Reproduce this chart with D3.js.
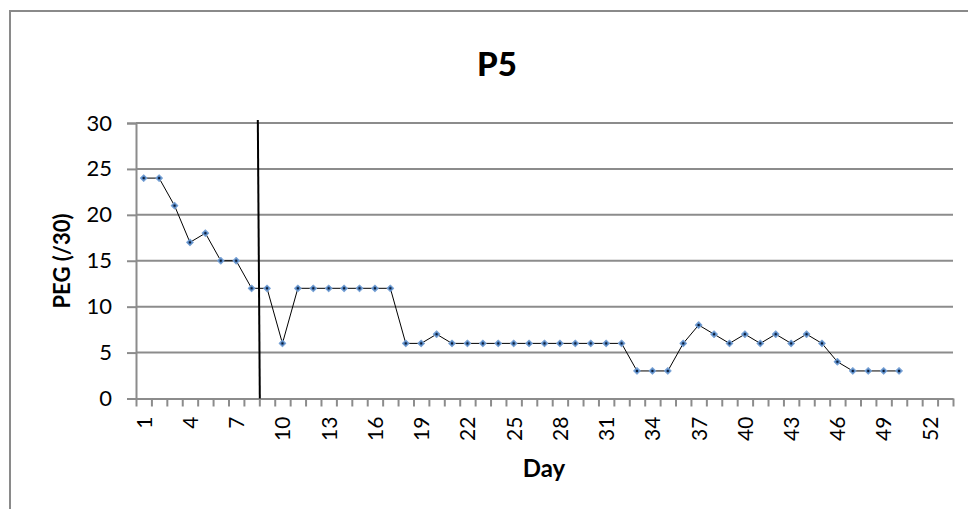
<!DOCTYPE html>
<html><head><meta charset="utf-8">
<script src="https://cdn.jsdelivr.net/npm/d3@7"></script>
<style>
html,body{margin:0;padding:0;background:#fff;}
svg{display:block;}
text{font-family:Lato,"Open Sans",sans-serif;fill:#000;}
</style></head>
<body>
<svg id="chart" width="968" height="509"></svg>
<script>
const title = "P5";
const yTitle = "PEG (/30)";
const xTitle = "Day";
const days = d3.range(1, 51);
const peg = [24,24,21,17,18,15,15,12,12,6,
             12,12,12,12,12,12,12,6,6,7,
             6,6,6,6,6,6,6,6,6,6,
             6,6,3,3,3,6,8,7,6,7,
             6,7,6,7,6,4,3,3,3,3];
const nCategories = 53;
const xTickLabels = d3.range(1, 53, 3);
const yTicks = [0,5,10,15,20,25,30];
const phaseChange = 8.5;

const svg = d3.select("#chart");
const L = 136, R = 953, T = 123, B = 398.5;

// outer border
svg.append("rect").attr("x",10).attr("y",11).attr("width",980).attr("height",520)
  .attr("fill","none").attr("stroke","#8a8a8a").attr("stroke-width",2);

const x = d3.scaleLinear().domain([0.5, nCategories + 0.5]).range([L, R]);
const y = d3.scaleLinear().domain([0, 30]).range([B, T]);

// gridlines
svg.append("g").selectAll("line").data(yTicks.filter(d=>d>0)).join("line")
  .attr("x1", L).attr("x2", R).attr("y1", d=>y(d)).attr("y2", d=>y(d))
  .attr("stroke","#8c8c8c").attr("stroke-width",2);

// y axis
const yAxis = svg.append("g").attr("transform",`translate(${L},0)`)
  .call(d3.axisLeft(y).tickValues(yTicks).tickSize(9).tickPadding(15));
yAxis.select(".domain").attr("stroke","#8c8c8c").attr("stroke-width",2);
yAxis.selectAll(".tick line").attr("stroke","#8c8c8c").attr("stroke-width",2);
yAxis.selectAll("text").attr("font-size",22).attr("font-family","Lato,sans-serif").attr("fill","#000");

// x axis ticks at category boundaries
const xAxisTicks = svg.append("g").attr("transform",`translate(0,${B})`)
  .call(d3.axisBottom(x).tickValues(d3.range(0.5, nCategories + 1, 1)).tickFormat("").tickSize(8).tickSizeOuter(0));
xAxisTicks.select(".domain").attr("stroke","#8c8c8c").attr("stroke-width",2);
xAxisTicks.selectAll(".tick line").attr("stroke","#8c8c8c").attr("stroke-width",2);

// x labels
const xLab = svg.append("g").attr("transform",`translate(0,${B})`)
  .call(d3.axisBottom(x).tickValues(xTickLabels).tickFormat(d3.format("d")).tickSize(0));
xLab.select(".domain").remove();
xLab.selectAll("text")
  .attr("font-size",21).attr("font-family","Lato,sans-serif").attr("fill","#000")
  .attr("transform","rotate(-90)")
  .attr("text-anchor","end")
  .attr("dy","0.35em")
  .attr("x",-18).attr("y",0);

// phase change line
svg.append("line")
  .attr("x1", x(phaseChange) - 1.5).attr("x2", x(phaseChange) + 0.5)
  .attr("y1", 120).attr("y2", B)
  .attr("stroke","#000").attr("stroke-width",2);

// data line
const data = days.map((d,i)=>({d, v: peg[i]}));
svg.append("path").datum(data)
  .attr("fill","none").attr("stroke","#000").attr("stroke-width",1)
  .attr("d", d3.line().x(p=>x(p.d)).y(p=>y(p.v)));

// markers
const sym = d3.symbol().type(d3.symbolSquare).size(22);
svg.append("g").selectAll("path").data(data).join("path")
  .attr("transform", p=>`translate(${x(p.d)},${y(p.v)}) rotate(45)`)
  .attr("d", sym).attr("fill","#4f81bd").attr("stroke","#7aa3d6").attr("stroke-width",1).attr("stroke-linejoin","round");
svg.append("g").selectAll("rect").data(data).join("rect")
  .attr("x", p=>x(p.d)-1).attr("y", p=>y(p.v)-1).attr("width",2).attr("height",2).attr("fill","#0b1a33");

// titles
svg.append("text").attr("x",497).attr("y",76).attr("text-anchor","middle")
  .attr("font-size",33).attr("font-weight","900").text(title);
svg.append("text").attr("transform","translate(70,261) rotate(-90)").attr("text-anchor","middle")
  .attr("font-size",22).attr("font-weight","bold").text(yTitle);
svg.append("text").attr("x",544).attr("y",477).attr("text-anchor","middle")
  .attr("font-size",24).attr("font-weight","bold").text(xTitle);
</script>
</body></html>
